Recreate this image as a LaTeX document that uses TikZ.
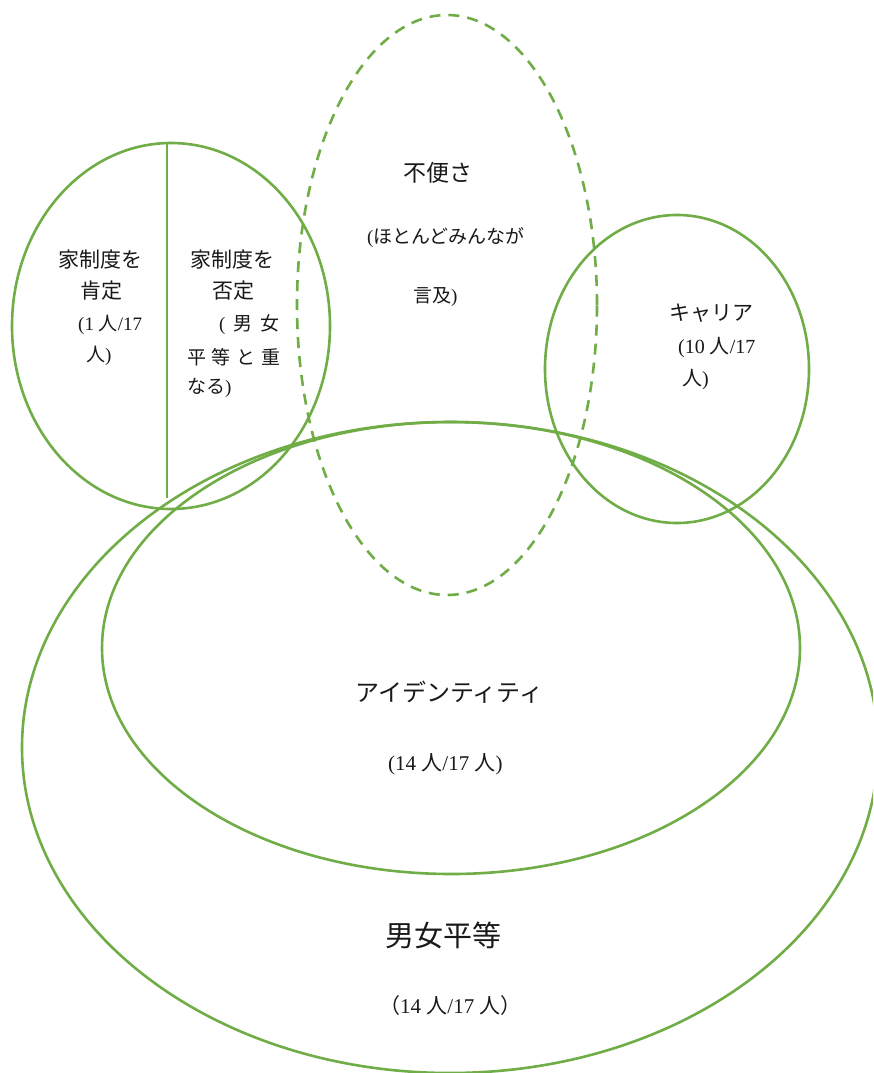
\documentclass[tikz,border=0pt]{standalone}
\usepackage{fontspec}
\setmainfont{Liberation Serif}
\newfontfamily\jp{Noto Sans CJK JP}
\usetikzlibrary{shapes.geometric}
\definecolor{vgreen}{RGB}{112,173,71}
\newcommand\fs[1]{\fontsize{#1}{#1}\selectfont}
\newcommand\J[1]{{\jp #1}}
\tikzset{
  venn/.style={ellipse, draw=vgreen, line width=2.6pt, inner sep=0pt},
  lbl/.style={inner sep=0pt, anchor=west, text=black!90},
}
\begin{document}
\begin{tikzpicture}[x=1pt,y=-1pt]
\useasboundingbox (0,0) rectangle (873,1073);
\clip (0,0) rectangle (873,1073);
\fill[white] (0,0) rectangle (873,1073);

% ellipses
\node[venn, dash pattern=on 11pt off 8pt, minimum width=300pt, minimum height=580pt] (fuben) at (447,305) {};
\node[venn, minimum width=318pt, minimum height=366pt] (kazoku) at (171,326) {};
\node[venn, minimum width=264pt, minimum height=308pt] (career) at (677,369) {};
\node[venn, minimum width=698pt, minimum height=452pt] (identity) at (451,648) {};
\node[venn, minimum width=856pt, minimum height=651pt] (danjo) at (450,747.5) {};

% divider inside left ellipse
\coordinate (divtop) at (167,144);
\coordinate (divbot) at (167,498);
\draw[vgreen, line width=2.6pt] (divtop) -- (divbot);

% left half
\node[lbl, font=\fs{21}] (ka1) at (58,260) {\J{家制度を}};
\node[lbl, font=\fs{21}] (ka2) at (80,291) {\J{肯定}};
\node[lbl, font=\fs{19}] (ka3) at (78,325) {(1 \J{人}/17};
\node[lbl, font=\fs{19}] (ka4) at (86,356) {\J{人})};

% right half
\node[lbl, font=\fs{21}] (kb1) at (190,260) {\J{家制度を}};
\node[lbl, font=\fs{21}] (kb2) at (212,291) {\J{否定}};
\node[lbl, font=\fs{19}] (kb3) at (219,325) {\hbox to 60pt{(\hfill\J{男}\hfill\J{女}}};
\node[lbl, font=\fs{19}] (kb4) at (187,357) {\hbox to 93pt{\J{平}\hfill\J{等}\hfill\J{と}\hfill\J{重}}};
\node[lbl, font=\fs{19}] (kb5) at (187,388) {\J{なる})};

% dashed ellipse
\node[lbl, font=\fs{23}] (fu1) at (403,173) {\J{不便さ}};
\node[lbl, font=\fs{19}] (fu2) at (367,237) {(\J{ほとんどみんなが}};
\node[lbl, font=\fs{19}] (fu3) at (413,297) {\J{言及})};

% career
\node[lbl, font=\fs{21}] (ca1) at (669,313) {\J{キャリア}};
\node[lbl, font=\fs{20}] (ca2) at (678,348) {(10 \J{人}/17};
\node[lbl, font=\fs{20}] (ca3) at (682,380) {\J{人})};

% identity
\node[lbl, font=\fs{24}] (id1) at (355,692) {\J{アイデンティティ}};
\node[lbl, font=\fs{21}] (id2) at (388,764) {(14 \J{人}/17 \J{人})};

% gender equality
\node[lbl, font=\fs{29}] (dj1) at (385,935) {\J{男女平等}};
\node[lbl, font=\fs{21}] (dj2) at (379,1006) {\J{（}14 \J{人}/17 \J{人）}};
\end{tikzpicture}
\end{document}
